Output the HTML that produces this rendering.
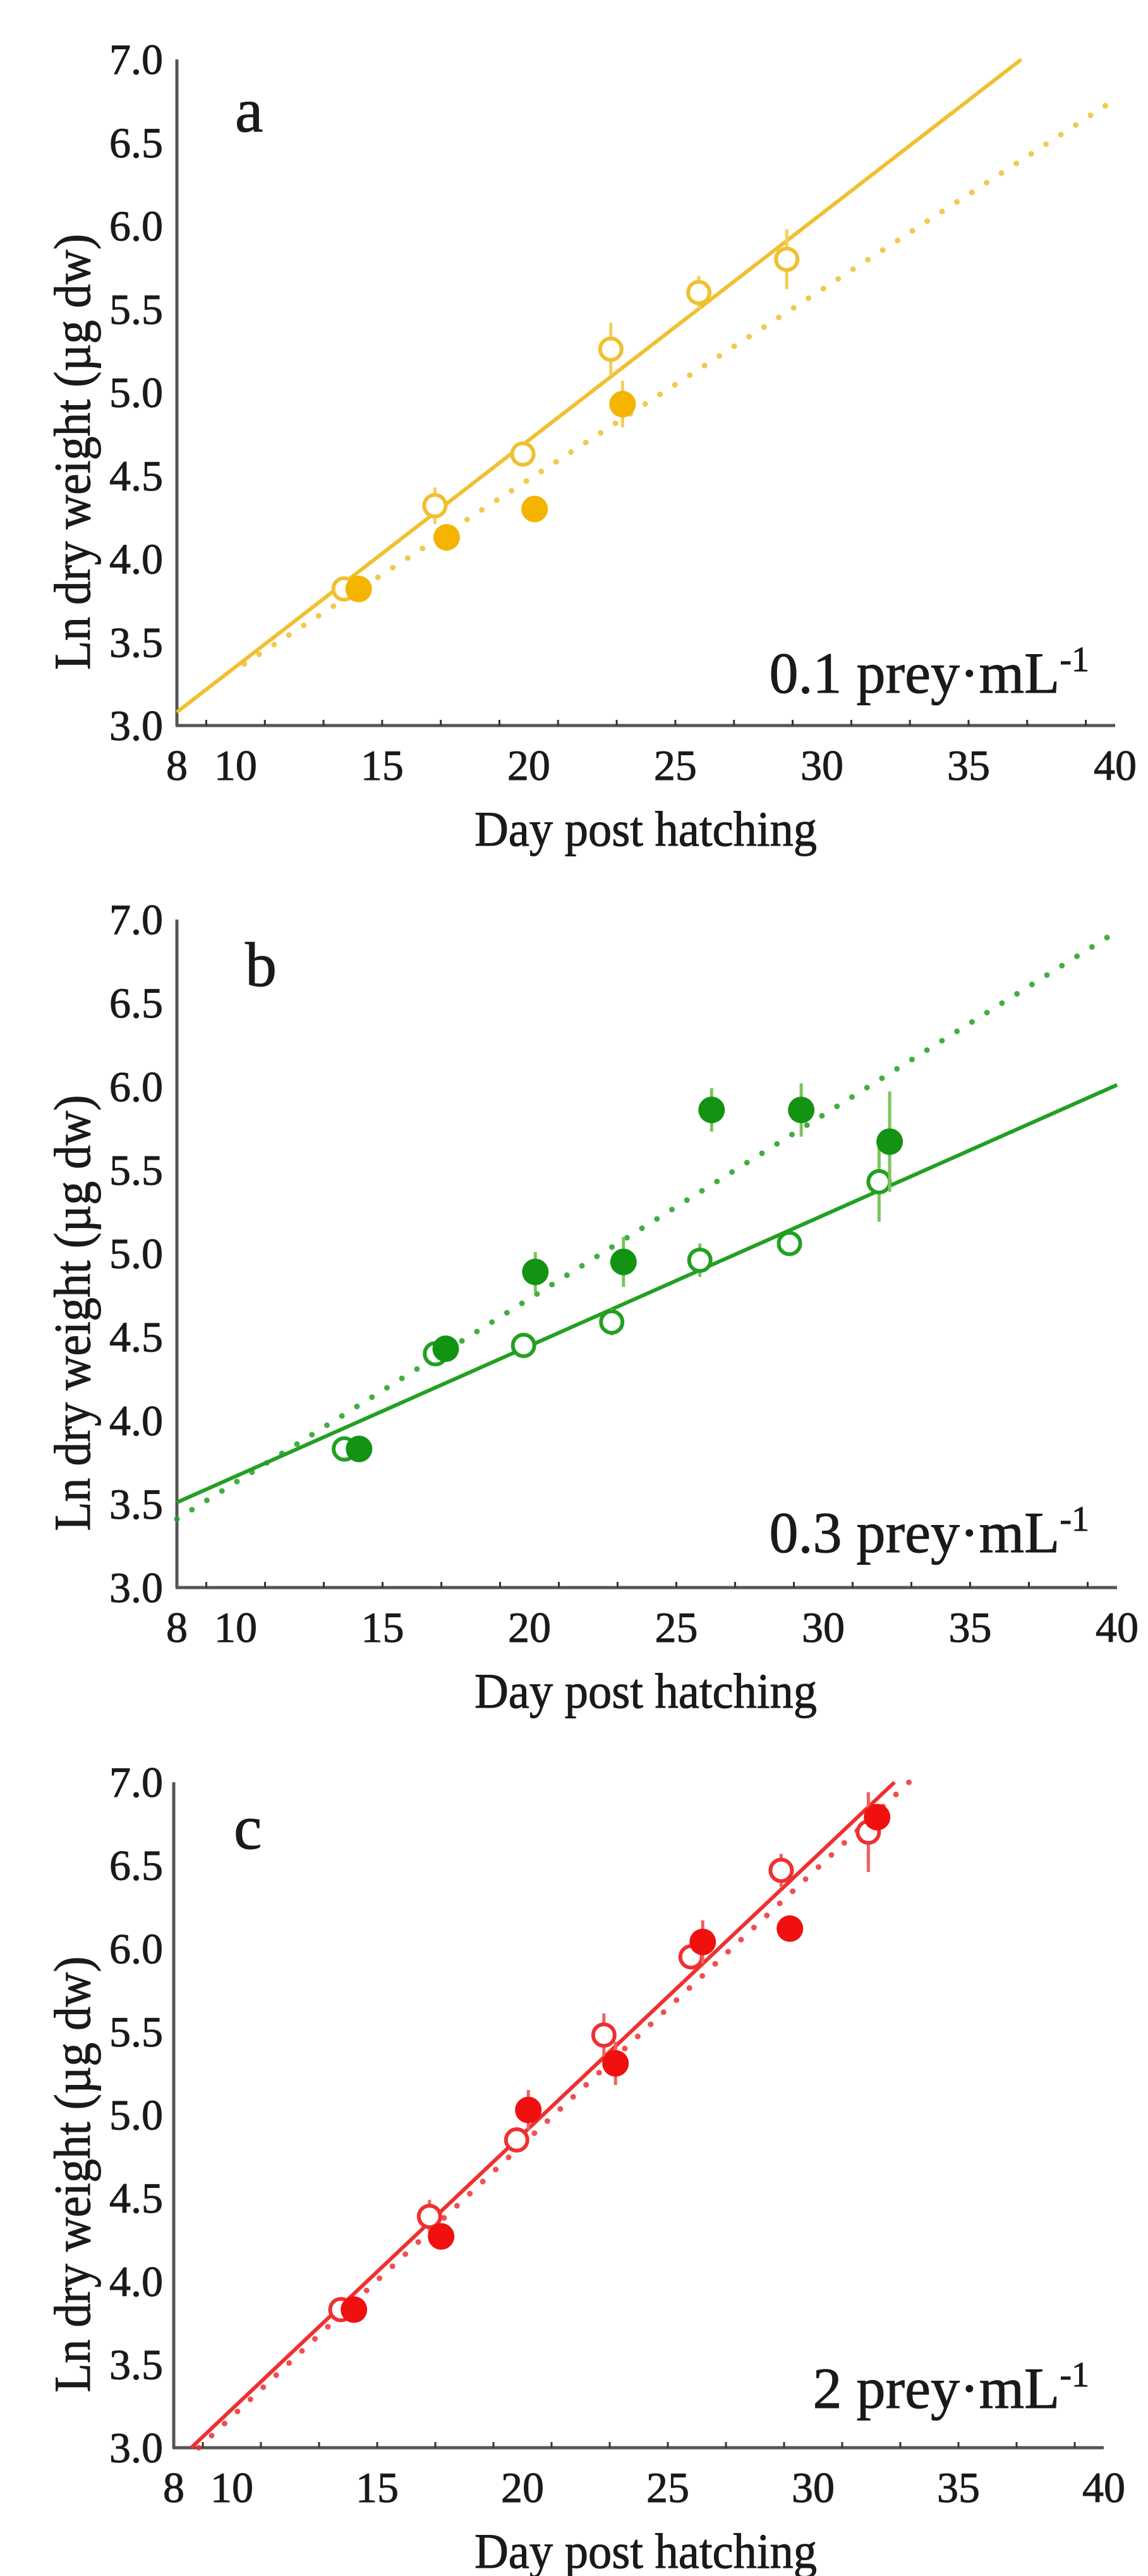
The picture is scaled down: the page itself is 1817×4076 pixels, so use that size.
<!DOCTYPE html>
<html><head><meta charset="utf-8"><style>
html,body{margin:0;padding:0;background:#fff}
svg{display:block}
text{font-family:"Liberation Serif",serif;fill:#1a1a1a;stroke:#1a1a1a;stroke-width:1}
</style></head><body>
<svg id="fig" width="1817" height="4076" viewBox="0 0 1817 4076" xmlns="http://www.w3.org/2000/svg"></svg>
<script>
// ---- shared axis labels ----
const xTicks = [8, 10, 15, 20, 25, 30, 35, 40];
const yTicks = [3.0, 3.5, 4.0, 4.5, 5.0, 5.5, 6.0, 6.5, 7.0];

// ---- panel a (0.1 prey/mL) ----
const aOpenDays = [13.7, 16.8, 19.8, 22.8, 25.8, 28.8];
const aOpenVals = [3.82, 4.32, 4.63, 5.26, 5.60, 5.80];
const aOpenErr  = [0.03, 0.11, 0.05, 0.16, 0.10, 0.18];
const aFillDays = [14.2, 17.2, 20.2, 23.2];
const aFillVals = [3.82, 4.13, 4.30, 4.93];
const aFillErr  = [0.03, 0.08, 0.03, 0.14];
const aSolidFit = [8, 3.08, 36.8, 7.0];
const aDotFit   = [10.3, 3.37, 40, 6.76];

// ---- panel b (0.3 prey/mL) ----
const bOpenDays = [13.7, 16.8, 19.8, 22.8, 25.8, 28.85, 31.9];
const bOpenVals = [3.83, 4.40, 4.45, 4.59, 4.96, 5.06, 5.43];
const bOpenErr  = [0.03, 0.04, 0.04, 0.08, 0.10, 0.07, 0.24];
const bFillDays = [14.2, 17.15, 20.2, 23.2, 26.2, 29.25, 32.26];
const bFillVals = [3.83, 4.43, 4.89, 4.95, 5.86, 5.86, 5.67];
const bFillErr  = [0.03, 0.04, 0.12, 0.15, 0.13, 0.16, 0.30];
const bSolidFit = [8, 3.51, 40, 6.01];
const bDotFit   = [8, 3.41, 40, 6.93];

// ---- panel c (2 prey/mL) ----
const cOpenDays = [13.75, 16.8, 19.8, 22.8, 25.8, 28.9, 31.9];
const cOpenVals = [3.83, 4.39, 4.85, 5.48, 5.95, 6.47, 6.70];
const cOpenErr  = [0.03, 0.10, 0.04, 0.13, 0.05, 0.10, 0.24];
const cFillDays = [14.2, 17.2, 20.2, 23.2, 26.2, 29.2, 32.2];
const cFillVals = [3.83, 4.27, 5.03, 5.31, 6.04, 6.12, 6.79];
const cFillErr  = [0.03, 0.07, 0.12, 0.13, 0.13, 0.07, 0.05];
const cSolidFit = [8.6, 3.0, 32.8, 7.0];
const cDotFit   = [8.86, 3.0, 33.3, 7.0];

const NS = "http://www.w3.org/2000/svg";
const svg = document.getElementById('fig');
function mk(tag, attrs, parent){
  const e = document.createElementNS(NS, tag);
  for (const k in attrs) e.setAttribute(k, attrs[k]);
  (parent || svg).appendChild(e);
  return e;
}

const panels = [
  {id:'a', letter:'a', conc:'0.1', x0:280, x1:1765, yTop:94, yBot:1148, color:'#f0c030', fill:'#f5b400', err:'#f3cf5a',
   od:aOpenDays, ov:aOpenVals, oe:aOpenErr, fd:aFillDays, fv:aFillVals, fe:aFillErr, sf:aSolidFit, df:aDotFit,
   letterPos:[372,208], annBase:1096},
  {id:'b', letter:'b', conc:'0.3', x0:280, x1:1768, yTop:1455, yBot:2512, color:'#22a022', fill:'#129412', err:'#7cc45a',
   od:bOpenDays, ov:bOpenVals, oe:bOpenErr, fd:bFillDays, fv:bFillVals, fe:bFillErr, sf:bSolidFit, df:bDotFit,
   letterPos:[388,1560], annBase:2456},
  {id:'c', letter:'c', conc:'2', x0:275, x1:1747, yTop:2820, yBot:3873, color:'#ef3030', fill:'#f01010', err:'#f06060',
   od:cOpenDays, ov:cOpenVals, oe:cOpenErr, fd:cFillDays, fv:cFillVals, fe:cFillErr, sf:cSolidFit, df:cDotFit,
   letterPos:[370,2925], annBase:3810}
];

panels.forEach(p => {
  const g = mk('g', {});
  
  
  const X = d => p.x0 + (d - 8) / 32 * (p.x1 - p.x0);
  const Y = v => p.yBot - (v - 3) / 4 * (p.yBot - p.yTop);

  const ya = mk('line', {x1:p.x0, y1:p.yTop, x2:p.x0, y2:p.yBot, stroke:'#555', 'stroke-width':5}, g);
   
  const xa = mk('line', {x1:p.x0-2, y1:p.yBot, x2:p.x1, y2:p.yBot, stroke:'#555', 'stroke-width':5}, g);
   
  for (let d = 9; d < 40; d += 2) {
    const t = mk('line', {x1:X(d), y1:p.yBot, x2:X(d), y2:p.yBot-9, stroke:'#333', 'stroke-width':3}, g);
     
  }
  xTicks.forEach(d => {
    const t = mk('text', {x:X(d), y:p.yBot+86, 'font-size':68, 'text-anchor':'middle'}, g);
    t.textContent = String(d);
     
  });
  yTicks.forEach(v => {
    const t = mk('text', {x:258, y:Y(v)+23, 'font-size':68, 'text-anchor':'end'}, g);
    t.textContent = v.toFixed(1);
     
  });
  const xt = mk('text', {x:1022, y:p.yBot+190, 'font-size':78, 'text-anchor':'middle', textLength:542, lengthAdjust:'spacingAndGlyphs'}, g);
  xt.textContent = 'Day post hatching';
   
  const cy = (p.yTop + p.yBot) / 2 + 94;
  const yt = mk('text', {x:0, y:0, 'font-size':82, 'text-anchor':'middle', textLength:690, lengthAdjust:'spacingAndGlyphs',
    transform:`translate(142,${cy}) rotate(-90)`}, g);
  yt.textContent = 'Ln dry weight (µg dw)';
   
  const lt = mk('text', {x:p.letterPos[0], y:p.letterPos[1], 'font-size':100}, g);
  lt.textContent = p.letter;
   
  const an = mk('text', {x:1724, y:p.annBase, 'font-size':92, 'text-anchor':'end'}, g);
   
  const t1 = mk('tspan', {}, an); t1.textContent = p.conc + ' prey·mL';
  const t2 = mk('tspan', {dy:-34, 'font-size':56}, an); t2.textContent = '-1';

  const sl = mk('line', {x1:X(p.sf[0]), y1:Y(p.sf[1]), x2:X(p.sf[2]), y2:Y(p.sf[3]), stroke:p.color, 'stroke-width':6}, g);
   
  const dl = mk('line', {x1:X(p.df[0]), y1:Y(p.df[1]), x2:X(p.df[2]), y2:Y(p.df[3]), stroke:p.color, 'stroke-width':9,
    'stroke-linecap':'round', 'stroke-dasharray':'0 28', opacity:0.85}, g);
   

  p.od.forEach((d, i) => {
    const e = mk('line', {x1:X(d), y1:Y(p.ov[i]+p.oe[i]), x2:X(d), y2:Y(p.ov[i]-p.oe[i]), stroke:p.err, 'stroke-width':5}, g);
     
    const c = mk('circle', {cx:X(d), cy:Y(p.ov[i]), r:17, fill:'#fff', stroke:p.color, 'stroke-width':6}, g);
     
  });
  p.fd.forEach((d, i) => {
    const e = mk('line', {x1:X(d), y1:Y(p.fv[i]+p.fe[i]), x2:X(d), y2:Y(p.fv[i]-p.fe[i]), stroke:p.err, 'stroke-width':5}, g);
     
    const c = mk('circle', {cx:X(d), cy:Y(p.fv[i]), r:21, fill:p.fill}, g);
     
  });
});
</script>
</body></html>
